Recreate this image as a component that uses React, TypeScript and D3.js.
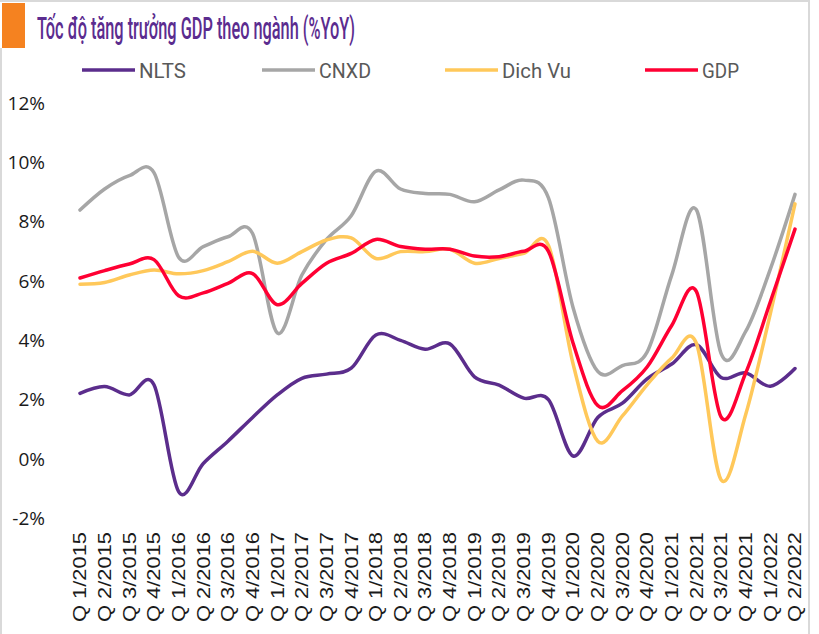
import React from 'react';
import * as d3 from 'd3';

const quarters = [
  'Q 1/2015', 'Q 2/2015', 'Q 3/2015', 'Q 4/2015',
  'Q 1/2016', 'Q 2/2016', 'Q 3/2016', 'Q 4/2016',
  'Q 1/2017', 'Q 2/2017', 'Q 3/2017', 'Q 4/2017',
  'Q 1/2018', 'Q 2/2018', 'Q 3/2018', 'Q 4/2018',
  'Q 1/2019', 'Q 2/2019', 'Q 3/2019', 'Q 4/2019',
  'Q 1/2020', 'Q 2/2020', 'Q 3/2020', 'Q 4/2020',
  'Q 1/2021', 'Q 2/2021', 'Q 3/2021', 'Q 4/2021',
  'Q 1/2022', 'Q 2/2022',
];

const nlts = [
  2.21, 2.44, 2.16, 2.5, -1.1, -0.15, 0.6, 1.4,
  2.16, 2.72, 2.86, 3.06, 4.18, 4.0, 3.7, 3.88,
  2.77, 2.49, 2.05, 2.0, 0.1, 1.4, 1.88, 2.7,
  3.2, 3.85, 2.75, 2.9, 2.45, 3.05,
];

const cnxd = [
  8.39, 9.1, 9.55, 9.65, 6.8, 7.16, 7.49, 7.6,
  4.25, 6.2, 7.4, 8.2, 9.7, 9.1, 8.95, 8.92,
  8.67, 9.07, 9.4, 8.8, 5.1, 2.95, 3.15, 3.6,
  6.2, 8.4, 3.56, 4.3, 6.4, 8.92,
];

const dichVu = [
  5.89, 5.95, 6.2, 6.37, 6.24, 6.35, 6.65, 7.0,
  6.6, 6.99, 7.38, 7.45, 6.76, 6.99, 6.99, 7.07,
  6.6, 6.76, 6.93, 7.2, 3.2, 0.6, 1.45, 2.5,
  3.4, 3.9, -0.7, 1.5, 4.9, 8.6,
];

const gdp = [
  6.1, 6.35, 6.57, 6.72, 5.5, 5.6, 5.92, 6.25,
  5.2, 5.92, 6.6, 6.93, 7.4, 7.16, 7.07, 7.07,
  6.84, 6.82, 7.0, 7.0, 3.9, 1.8, 2.3, 3.1,
  4.5, 5.65, 1.42, 2.9, 5.3, 7.75,
];

const yTicks = [-2, 0, 2, 4, 6, 8, 10, 12];

const seriesNames = ['NLTS', 'CNXD', 'Dich Vu', 'GDP'];
const seriesValues = [nlts, cnxd, dichVu, gdp];
const seriesColors = ['#5b2d8c', '#a6a6a6', '#ffc85a', '#ff0033'];

// legend layout (line start, line end, label width)
const legendLayout = [
  { x1: 82, x2: 135, tw: 47 },
  { x1: 262, x2: 315, tw: 52 },
  { x1: 445, x2: 498, tw: 69 },
  { x1: 645, x2: 698, tw: 37 },
];

const W = 819;
const H = 634;

export default function App() {
  const x = d3.scalePoint<string>().domain(quarters).range([80, 795]);
  const y = d3.scaleLinear().domain([-2, 12]).range([518.3, 103]);

  const line = d3
    .line<number>()
    .x((_, i) => x(quarters[i]) as number)
    .y((d) => y(d))
    .curve(d3.curveCardinal.tension(0));

  return (
    <svg
      width={W}
      height={H}
      style={{ position: 'absolute', left: 0, top: 0, background: '#fff' }}
    >
      <rect x={0} y={0} width={W} height={H} fill="#fff" />
      {/* frame */}
      <line x1={0} y1={1} x2={810} y2={1} stroke="#d9d9d9" strokeWidth={2} />
      <line x1={809} y1={0} x2={809} y2={H} stroke="#d9d9d9" strokeWidth={2} />
      <line x1={1} y1={48} x2={1} y2={H} stroke="#d9d9d9" strokeWidth={2} />
      <rect x={2} y={3} width={23} height={45} fill="#f58220" />

      <text
        x={37}
        y={39}
        fontFamily="Roboto, sans-serif"
        fontSize={31}
        fontWeight={500}
        fill="#5b2c8f"
        textLength={318}
        lengthAdjust="spacingAndGlyphs"
      >
        Tốc độ tăng trưởng GDP theo ngành (%YoY)
      </text>

      {/* legend */}
      {seriesNames.map((name, i) => (
        <g key={name}>
          <line
            x1={legendLayout[i].x1}
            x2={legendLayout[i].x2}
            y1={70}
            y2={70}
            stroke={seriesColors[i]}
            strokeWidth={3.5}
          />
          <text
            x={legendLayout[i].x2 + 4}
            y={78}
            fontFamily="Roboto, sans-serif"
            fontSize={21}
            fill="#595959"
            textLength={legendLayout[i].tw}
            lengthAdjust="spacingAndGlyphs"
          >
            {name}
          </text>
        </g>
      ))}

      {/* y axis labels */}
      {yTicks.map((t) => (
        <text
          key={t}
          x={45}
          y={y(t)}
          dy="0.35em"
          textAnchor="end"
          fontFamily="'Open Sans', sans-serif"
          fontSize={19}
          fill="#1a1a1a"
        >
          {`${t}%`}
        </text>
      ))}

      {/* x axis labels */}
      {quarters.map((q) => (
        <text
          key={q}
          transform={`translate(${x(q)},532) rotate(-90)`}
          dy="0.35em"
          textAnchor="end"
          fontFamily="'Liberation Sans', Arial, sans-serif"
          fontSize={18}
          fill="#1a1a1a"
          textLength={90}
          lengthAdjust="spacingAndGlyphs"
        >
          {q}
        </text>
      ))}

      {/* series */}
      {seriesValues.map((vals, i) => (
        <path
          key={seriesNames[i]}
          d={line(vals) || ''}
          fill="none"
          stroke={seriesColors[i]}
          strokeWidth={3.5}
          strokeLinejoin="round"
          strokeLinecap="round"
        />
      ))}
    </svg>
  );
}
